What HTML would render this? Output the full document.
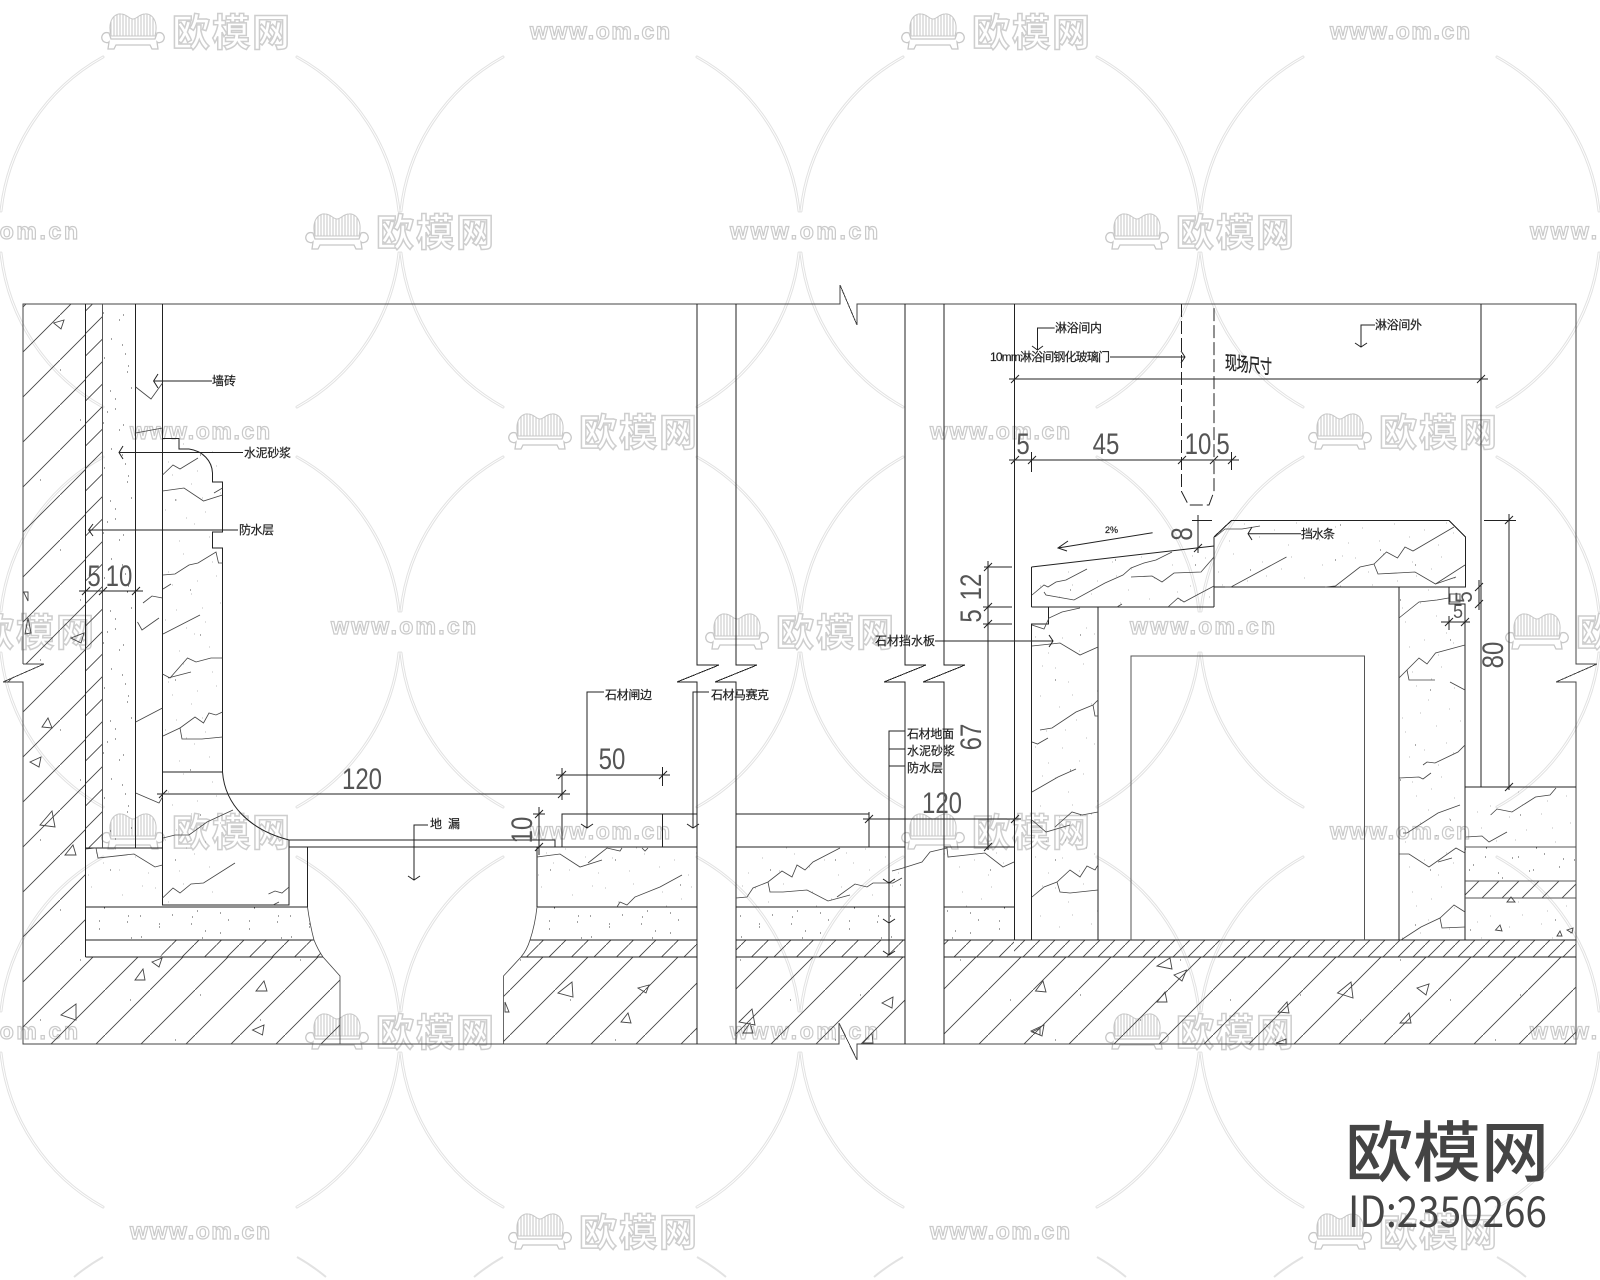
<!DOCTYPE html>
<html><head><meta charset="utf-8"><title>淋浴间节点详图</title>
<style>
html,body{margin:0;padding:0;background:#fff;width:1600px;height:1280px;overflow:hidden}
svg{display:block}
.wm{font-family:"Liberation Sans","Noto Sans CJK SC",sans-serif;font-size:38px;fill:#fff;stroke:#cecece;stroke-width:1.5;font-weight:700}
.ww{font-family:"Liberation Sans",sans-serif;font-size:23px;fill:#fff;stroke:#cacaca;stroke-width:1.2;font-weight:700}
.l{font-family:"Liberation Sans","Noto Sans CJK SC",sans-serif;font-size:12px;fill:#222;stroke:#222;stroke-width:.2}
.d{font-family:"Liberation Sans",sans-serif;font-size:30px;fill:#555;text-anchor:middle}
.m{fill:none;stroke:#222;stroke-width:1;shape-rendering:crispEdges}
.o{fill:none;stroke:#444;stroke-width:1;shape-rendering:crispEdges}
.t{fill:none;stroke:#555;stroke-width:1;shape-rendering:crispEdges}
.v{fill:none;stroke:#444;stroke-width:.8}
.a{fill:none;stroke:#222;stroke-width:1}
.tr{fill:none;stroke:#444;stroke-width:.9}
</style></head><body>
<svg xmlns="http://www.w3.org/2000/svg" width="1600" height="1280" viewBox="0 0 1600 1280">
<defs>
<pattern id="c" width="45" height="45" patternUnits="userSpaceOnUse" patternTransform="translate(15,0)"><path d="M-1 46L46-1" stroke="#444" stroke-width=".9" fill="none"/></pattern>
<pattern id="c2" width="45" height="45" patternUnits="userSpaceOnUse" patternTransform="translate(43,0)"><path d="M-1 46L46-1" stroke="#444" stroke-width=".9" fill="none"/></pattern>
<pattern id="h" width="22.500" height="22.500" patternUnits="userSpaceOnUse" patternTransform="translate(14,0)"><path d="M-1 23.500L23.500-1" stroke="#444" stroke-width=".9" fill="none"/></pattern>
<pattern id="h2" width="22.500" height="22.500" patternUnits="userSpaceOnUse" patternTransform="translate(21,0)"><path d="M-1 23.500L23.500-1" stroke="#444" stroke-width=".9" fill="none"/></pattern>
<pattern id="g" width="20" height="20" patternUnits="userSpaceOnUse"><path d="M-1 21L21-1" stroke="#444" stroke-width=".9" fill="none"/></pattern>
<pattern id="f" width="15" height="15" patternUnits="userSpaceOnUse"><path d="M-1 16L16-1" stroke="#444" stroke-width=".9" fill="none"/></pattern>
<pattern id="s" width="150" height="110" patternUnits="userSpaceOnUse"><path stroke="#444" stroke-width="1" fill="none" d="M5 8h1M18 22h1M33 4h1M47 31h1M62 12h1M78 40h1M91 7h1M104 28h1M122 15h1M140 36h1M9 47h1M26 60h1M41 44h1M55 72h1M70 53h1M86 66h1M99 49h1M115 79h1M131 58h1M146 71h1M12 88h1M29 101h1M44 84h1M59 97h1M74 90h1M88 105h1M103 93h1M119 100h1M135 87h1M148 103h1M22 35h1M36 78h1M66 26h1M96 83h1M110 61h1M127 42h1M142 6h1M52 58h1M81 19h1M15 70h1"/></pattern>
<pattern id="s3" width="150" height="110" patternUnits="userSpaceOnUse" patternTransform="translate(37,29)"><path stroke="#444" stroke-width="1" fill="none" d="M5 8h1M18 22h1M33 4h1M47 31h1M62 12h1M78 40h1M91 7h1M104 28h1M122 15h1M140 36h1M9 47h1M26 60h1M41 44h1M55 72h1M70 53h1M86 66h1M99 49h1M115 79h1M131 58h1M146 71h1M12 88h1M29 101h1M44 84h1M59 97h1M74 90h1M88 105h1M103 93h1M119 100h1M135 87h1M148 103h1"/></pattern>
<pattern id="s2" width="220" height="180" patternUnits="userSpaceOnUse"><path stroke="#555" stroke-width="1" fill="none" d="M15 20h1M80 60h1M150 30h1M200 95h1M40 120h1M110 150h1M175 140h1M60 10h1M130 100h1M20 165h1M95 25h1M190 50h1"/></pattern>
<pattern id="bars" width="3" height="10" patternUnits="userSpaceOnUse"><path d="M1 0V10" stroke="#c4c4c4" stroke-width="1"/></pattern>
<g id="ring" fill="none" stroke="#e2e2e2" stroke-width="3" stroke-linecap="round"><path d="M97-175A200 200 0 0 1 199-21M199 21A200 200 0 0 1 97 175M-97 175A200 200 0 0 1-199 21M-199-21A200 200 0 0 1-97-175"/><path d="M97-175A200 200 0 0 1 199-21M199 21A200 200 0 0 1 97 175M-97 175A200 200 0 0 1-199 21M-199-21A200 200 0 0 1-97-175" stroke="#fff" stroke-width="1"/></g>
<g id="sofa"><path d="M10 22C6 6 14-1 20 0C26 0 28 5 32 5C36 5 38 0 44 0C50-1 58 6 54 22Z" fill="url(#bars)" stroke="#c8c8c8"/><path d="M8 19C2 17-1 23 2 27C4 29 7 29 8 28L7 35L13 35L15 31H49L51 35L57 35L56 28C57 29 60 29 62 27C65 23 62 17 56 19L54 25H10Z" fill="#fff" stroke="#c8c8c8" stroke-width="1.300"/></g>
</defs>
<rect width="1600" height="1280" fill="#fff"/>

<!-- watermark rings -->
<use href="#ring" x="200" y="232"/><use href="#ring" x="600" y="232"/><use href="#ring" x="1000" y="232"/><use href="#ring" x="1400" y="232"/>
<use href="#ring" x="200" y="632"/><use href="#ring" x="600" y="632"/><use href="#ring" x="1000" y="632"/><use href="#ring" x="1400" y="632"/>
<use href="#ring" x="200" y="1032"/><use href="#ring" x="600" y="1032"/><use href="#ring" x="1000" y="1032"/><use href="#ring" x="1400" y="1032"/>
<path fill="none" stroke="#e2e2e2" stroke-width="2" d="M74 1277A200 200 0 0 1 103 1257M297 1257A200 200 0 0 1 326 1277M474 1277A200 200 0 0 1 503 1257M697 1257A200 200 0 0 1 726 1277M874 1277A200 200 0 0 1 903 1257M1097 1257A200 200 0 0 1 1126 1277M1274 1277A200 200 0 0 1 1303 1257M1497 1257A200 200 0 0 1 1526 1277"/>

<!-- watermark logos -->
<use href="#sofa" x="101" y="14"/><text class="wm" x="172" y="46" textLength="118">欧模网</text>
<use href="#sofa" x="901" y="14"/><text class="wm" x="972" y="46" textLength="118">欧模网</text>
<use href="#sofa" x="305" y="214"/><text class="wm" x="376" y="246" textLength="118">欧模网</text>
<use href="#sofa" x="1105" y="214"/><text class="wm" x="1176" y="246" textLength="118">欧模网</text>
<use href="#sofa" x="508" y="414"/><text class="wm" x="579" y="446" textLength="118">欧模网</text>
<use href="#sofa" x="1308" y="414"/><text class="wm" x="1379" y="446" textLength="118">欧模网</text>
<use href="#sofa" x="-95" y="614"/><text class="wm" x="-24" y="646" textLength="118">欧模网</text>
<use href="#sofa" x="705" y="614"/><text class="wm" x="776" y="646" textLength="118">欧模网</text>
<use href="#sofa" x="1505" y="614"/><text class="wm" x="1576" y="646" textLength="118">欧模网</text>
<use href="#sofa" x="101" y="814"/><text class="wm" x="172" y="846" textLength="118">欧模网</text>
<use href="#sofa" x="901" y="814"/><text class="wm" x="972" y="846" textLength="118">欧模网</text>
<use href="#sofa" x="305" y="1014"/><text class="wm" x="376" y="1046" textLength="118">欧模网</text>
<use href="#sofa" x="1105" y="1014"/><text class="wm" x="1176" y="1046" textLength="118">欧模网</text>
<use href="#sofa" x="508" y="1214"/><text class="wm" x="579" y="1246" textLength="118">欧模网</text>
<use href="#sofa" x="1308" y="1214"/><text class="wm" x="1379" y="1246" textLength="118">欧模网</text>
<text class="ww" x="530" y="39" textLength="140">www.om.cn</text><text class="ww" x="1330" y="39" textLength="140">www.om.cn</text>
<text class="ww" x="-70" y="239" textLength="148">www.om.cn</text><text class="ww" x="730" y="239" textLength="148">www.om.cn</text><text class="ww" x="1530" y="239" textLength="148">www.om.cn</text>
<text class="ww" x="130" y="439" textLength="140">www.om.cn</text><text class="ww" x="930" y="439" textLength="140">www.om.cn</text>
<text class="ww" x="331" y="634" textLength="145">www.om.cn</text><text class="ww" x="1130" y="634" textLength="145">www.om.cn</text>
<text class="ww" x="530" y="839" textLength="140">www.om.cn</text><text class="ww" x="1330" y="839" textLength="140">www.om.cn</text>
<text class="ww" x="-70" y="1039" textLength="148">www.om.cn</text><text class="ww" x="730" y="1039" textLength="148">www.om.cn</text><text class="ww" x="1530" y="1039" textLength="148">www.om.cn</text>
<text class="ww" x="130" y="1239" textLength="140">www.om.cn</text><text class="ww" x="930" y="1239" textLength="140">www.om.cn</text>

<!-- fills -->
<g>
<path d="M23 304H85.700V957H323L340 976V1044H23V682H3L44 664H23ZM503.500 1044V976L521 957H697V1044ZM736 957H905V1044H736Z" fill="url(#c)"/>
<path d="M944 957H1576V1044H944Z" fill="url(#c2)"/>
<path d="M23 304H85.700V957H323L340 976V1044H23V682H23V664H23Z" fill="url(#s2)"/>
<path d="M503.500 1044V976L521 957H697V1044ZM736 957H905V1044H736ZM944 957H1576V1044H944Z" fill="url(#s2)"/>
<rect x="85.700" y="304" width="17.300" height="544" fill="url(#h)"/>
<path d="M160 957L171 940H314L323 957Z" fill="url(#h)"/>
<path d="M530 940H697V957H521ZM736 940H905V957H736ZM944 940H1014V957H944Z" fill="url(#h2)"/>
<rect x="1014" y="940" width="562" height="17" fill="url(#f)"/>
<rect x="1465" y="881" width="111" height="17" fill="url(#g)"/>
<rect x="103" y="304" width="32.700" height="544" fill="url(#s)"/>
<rect x="103" y="304" width="32.700" height="544" fill="url(#s3)"/>
<path d="M85.700 907H307.500L314 940H85.700ZM537 907H697V940H530ZM736 907H905V940H736ZM944 907H1014V940H944ZM1465 847H1576V881H1465Z" fill="url(#s)"/>
<path d="M85.700 907H307.500L314 940H85.700ZM537 907H697V940H530ZM736 907H905V940H736ZM944 907H1014V940H944ZM1465 847H1576V881H1465Z" fill="url(#s3)"/>
<path d="M85.700 848H162.500V905H85.700ZM162.500 438H222.500V905H162.500ZM537 847H697V907H537ZM736 847H905V907H736ZM944 847H1014V907H944ZM1031 567L1214 546V607H1031ZM1214 537L1231 520H1449L1465 537V587H1214ZM1031 624H1098V940H1031ZM1399 587H1465V940H1399ZM1465 787H1576V847H1465ZM1465 898H1576V940H1465Z" fill="url(#s2)"/>
<path d="M85.700 848H162.500V905H85.700ZM162.500 438H222.500V905H162.500ZM537 847H697V907H537ZM736 847H905V907H736ZM944 847H1014V907H944ZM1031 567L1214 546V607H1031ZM1214 537L1231 520H1449L1465 537V587H1214ZM1031 624H1098V940H1031ZM1399 587H1465V940H1399ZM1465 787H1576V847H1465ZM1465 898H1576V940H1465Z" fill="url(#s)" opacity=".35"/>
</g>

<!-- main outlines -->
<path class="o" d="M23 664V304H840V285L857 325V304H1576V664H1597L1556 682H1576V1044H857V1060L839 1023V1044H23V682H3L44 664H23"/>
<g class="m">
<path d="M85.500 304V957M135.500 304V848M162.500 304V905H289V840M85.500 848H162.500"/>
<path d="M85.500 907H307.500V847M85.500 940H314M85.500 957H323"/>
<path d="M289 840H555V847H289M307.500 847H537M537 847V907M537 847H697M736 847H905M944 847H1014"/>
<path d="M537 907H697M736 907H905M944 907H1014M530 940H697M736 940H905M944 940H1576M521 957H697M736 957H905M944 957H1576"/>
<path d="M562 847V814H697M662.500 814V847M736 814H869V847"/>
<path d="M697 304V665H719L677 682H697V1044M736 304V665H757L715 682H736V1044M905 304V665H926L884 682H905V1044M944 304V665H965L923 682H944V1044"/>
<path d="M1014.500 304V940M1031.500 940V624H1048.500V607M1098 607V940M1399 587V940M1465 604V940M1481 304V787"/>
<path d="M1031.500 607V567M1214 607H1031.500M1214 537V607M1214 537L1231.500 520.500H1449L1465.500 537V587H1214M1449 587V604H1465.500"/>
<path d="M1465 787H1576"/>
<path d="M162.500 772H222.500"/>
<path d="M162.500 438.500H179V449H189M212.500 473V482H222.500V532H212.500V548H222.500V772"/>
</g>
<path class="a" d="M1031.500 567L1214 546M1214 537L1231.500 520.500M1449 520.500L1465.500 537"/>
<g class="t">
<path d="M102.500 304V848"/>
<path d="M1131 940V656H1364.500V940"/>
<path d="M1465 847H1576M1465 881H1576M1465 898H1576"/>
<path d="M1450 594H1460V602H1450Z"/>
</g>
<path class="a" d="M189 449C203 451 212 461 212.500 473"/>
<path class="a" d="M222.500 772C225 805 250 830 289 840"/>
<path class="v" d="M307.500 907Q310 925 314 940Q318 950 323 957L340 976V1044M537 907Q535 925 530 940Q527 950 521 957L503.500 976V1044"/>
<path class="a" stroke-dasharray="13 4" d="M1181.500 304V491.500L1188.500 505H1209L1214 491.500V304"/>

<!-- veins -->
<g class="v">
<polyline points="135.700,387 151,399 162.500,383"/><polyline points="135.700,433 162.500,428"/>
<polyline points="162.500,475 173,465 180,469 198,458"/><polyline points="162.500,491 184,488 203.500,501 222.500,495"/><polyline points="214,493 222.500,488"/>
<polyline points="163,575 175,574 189,565 198,563 216,552 218.500,563 222.500,563"/><polyline points="163,589 171,584"/>
<polyline points="143,603 152,596 162.500,598"/><polyline points="137.500,622 142,630 159,618"/><polyline points="163,634 200,615"/>
<polyline points="162.500,674 170,678 187.500,658 196,662 211,658 222.500,658"/><polyline points="168,678 191,672"/>
<polyline points="135.700,722 162.500,708"/><polyline points="163,736 180,728 182,739 202,739 222.500,737"/><polyline points="180,728 195,717 203.500,723 209,713 216,715 222.500,712"/>
<polyline points="135.700,793 159,803 162.500,797"/><polyline points="163,838 175,835 189,835 207,822 233,810"/>
<polyline points="85.700,849 96,848 98,858 134,854 155,867 162.500,865"/><polyline points="162.500,898 173,888 180,893 191,884 203.500,883 235,863"/>
<polyline points="268.500,894 275,891 282,893 289,887"/><polyline points="273,905 279,902"/>
<polyline points="537,857 560,854 580,867 602,860"/><polyline points="588,863 607,848 620,851 622,848"/><polyline points="642,848 645,851 648,848"/>
<polyline points="617,907 620,902 627,905 635,897 660,887 682,875"/>
<polyline points="736,898 747,897 753,888 768,882 782,871 792,877 797,865 805,870 813,862 840,848"/>
<polyline points="768,882 770,892 783,892 807,890 828,901 850,895"/><polyline points="837,897 855,884 867,887 873,883 893,883 902,878"/>
<polyline points="892,871 903,868 922,862 930,852 947,848 948,857 985,853 1003,867 1014,862"/>
<polyline points="1040,730 1052,728 1076,712 1093,705 1098,700"/><polyline points="1093,705 1095,716 1098,716"/><polyline points="1032,742 1037.500,744 1048,738"/>
<polyline points="1032,792 1058,777 1076,769"/><polyline points="1032,820 1046,832 1070,825"/><polyline points="1055,827 1072,812 1082,815 1098,812"/>
<polyline points="1032,897 1044,887 1057,882 1070,870 1080,877 1087,866 1095,870 1098,865"/><polyline points="1057,882 1060,892 1070,893 1098,890"/>
<polyline points="1423,765 1427,762 1435,763 1458,752 1465,745"/><polyline points="1399,778 1419,777 1423,779 1431,773"/><polyline points="1403,833 1407,833 1438,813 1460,805"/>
<polyline points="1399,854 1409,854 1429,867 1456,848 1465,853"/><polyline points="1438,862 1452,858"/>
<polyline points="1401,940 1421,927 1440,918 1454,905 1465,912"/><polyline points="1440,918 1442,928 1465,927"/>
<polyline points="1490.600,815 1497,809 1512,812 1535.500,797 1550,795 1556,788"/><polyline points="1466,837 1482,836 1489,842 1507,832"/>
<polyline points="1032,595 1044,585 1048,587 1056,582 1066,580 1087,569"/><polyline points="1044,592 1046,595 1074,600 1105,583 1123,575 1131,568 1144,563 1156,560 1172,552"/>
<polyline points="1131,577 1152,576 1162,582 1174,573 1201,572 1214,557"/><polyline points="1168,607 1178,598 1184,602 1197,595 1214,586"/><polyline points="1117,607 1122,604"/>
<polyline points="1215,537 1225,529 1242,529 1260,526"/><polyline points="1225,587 1231,587 1286.500,557"/>
<polyline points="1325,587 1335.500,586 1360,567 1374,564 1386.500,552 1397.500,558 1405,547 1413,551 1454,527"/>
<polyline points="1374,564 1378,574 1415,572 1435.500,584 1465,565"/><polyline points="1435.500,584 1456,577"/>
<polyline points="1032,625 1044,629 1049,618 1062,612 1080,608"/><polyline points="1032,646 1060,643 1080,655 1098,647"/>
<polyline points="1399,618 1419,602 1437,600 1448.600,598"/><polyline points="1399,678 1419,658 1427,664 1435.500,653 1465,645"/><polyline points="1407,670 1409,680 1435,680"/><polyline points="1450,682 1465,690"/>
</g>

<!-- aggregate triangles -->
<g class="tr">
<path d="M53.600 323L64 320L61 329ZM23.600 592L28 592L28 601ZM28 618L31 633L25 634ZM71 638L84 633L81 643ZM42 727L48 718L52 728ZM30 762L41 757L39 767ZM40 825L52 811L55 827ZM65 855L73 845L76 855ZM152 962L162 958L159 967ZM135 980L143 969L145 980ZM256 991L264 981L267 991ZM61 1015L76 1004L76 1020ZM252.500 1030L264 1025L262.500 1035ZM505 1002L509 1012L505 1012Z"/>
<path d="M558 993L572 982L573 997ZM638 988L649 985L646 993ZM621 1022L628 1013L631 1023ZM739 1022L752 1009L755 1025ZM743 1033L750 1023L753 1033ZM882 1003L893 997L892 1008ZM863 1043L872 1033L873 1043ZM1032 1032L1040 1028L1040 1035Z"/>
<path d="M1035.500 991L1043 981L1046 992ZM1031 1031L1044 1025L1042 1036ZM1157 966L1170 958L1172 969ZM1174 975L1186.500 970L1182 981ZM1157 1002L1165 992L1167 1002ZM1278 1012L1287 1002L1289 1013ZM1337.500 993L1351 982L1353 998ZM1417 988L1429 984L1426 995ZM1400 1023L1409 1013L1411 1023ZM1276 1043L1286 1039L1286 1044ZM1507 902L1511 897L1515 902ZM1495.500 930L1500 925L1502 931ZM1557 936L1560 931L1562 936ZM1567 930L1573 928L1572 933Z"/>
</g>

<!-- dimensions -->
<g class="a">
<path d="M79 591H143M82 595L90 587M99 595L107 587M132 595L140 587"/>
<path d="M157 794H570M159 798L167 790M558 798L566 790"/>
<path d="M556 775H670M562 768V800M662.500 767V786M558 779L566 771M659 779L667 771"/>
<path d="M539 807V855M533 814H545M535 818L543 810M535 851L543 843"/>
<path d="M863 819H1021M869 812V830M865 823L873 815M1011 823L1019 815"/>
<path d="M1009 379H1488M1011 383L1019 375M1477 383L1485 375"/>
<path d="M1009 460H1239M1031.500 452V472M1011 464L1019 456M1028 464L1036 456M1178 464L1186 456M1210 464L1218 456M1231.500 452V470M1228 464L1236 456"/>
<path d="M988 561V850M984 567H1012M983 607H1012M983 624H1012M984 571L992 563M984 611L992 603M984 628L992 620M984 851L992 843"/>
<path d="M1509 514V790M1484 520.500H1516M1505 524L1513 516M1505 791L1513 783"/>
<path d="M1198 515V553M1192 520.500H1212M1194 552L1202 544"/>
<path d="M1479 580V610M1475 591L1483 583M1475 608L1483 600"/>
<path d="M1441 622H1470M1449 616V630M1445 626L1453 618M1461 626L1469 618"/>
</g>

<!-- leaders -->
<g class="a">
<path d="M153.600 381H212M158 374L153.600 381L158 388"/>
<path d="M119 452.500H243M123 446L119 452.500L123 459"/>
<path d="M88.600 530H238M93 524L88.600 530L93 536"/>
<path d="M428 825H414V880M408 876L414 880L420 876"/>
<path d="M604 692H587V828M581 824L587 828L593 824"/>
<path d="M709 692H693V828M687 824L693 828L699 824"/>
<path d="M905 731H889V955M883 951L889 955L895 951M883 879L889 883L895 879M883 919L889 923L895 919M889 749H905M889 766H905"/>
<path d="M1054.700 328H1037.500V350M1032 346L1037.500 350L1043 346"/>
<path d="M1110 357H1185M1181 351L1185 357L1181 363"/>
<path d="M1375 325H1361V347M1355 343L1361 347L1367 343"/>
<path d="M1152.600 532.700L1058 548M1068 541L1058 548L1067 551"/>
<path d="M1301 533.700H1248M1252 527L1248 533.700L1252 540"/>
<path d="M935 641H1053M1049 635L1053 641L1049 647"/>
</g>

<!-- labels -->
<text class="l" x="212" y="385" textLength="24">墙砖</text>
<text class="l" x="244" y="457" textLength="47">水泥砂浆</text>
<text class="l" x="239" y="534" textLength="35">防水层</text>
<text class="l" x="430" y="828" textLength="30">地 漏</text>
<text class="l" x="605" y="699" textLength="47">石材闸边</text>
<text class="l" x="711" y="699" textLength="58">石材马赛克</text>
<text class="l" x="907" y="738" textLength="47">石材地面</text>
<text class="l" x="907" y="755" textLength="48">水泥砂浆</text>
<text class="l" x="907" y="772" textLength="36">防水层</text>
<text class="l" x="875" y="645" textLength="60">石材挡水板</text>
<text class="l" x="1055" y="332" textLength="47">淋浴间内</text>
<text class="l" x="990" y="361" textLength="120">10mm淋浴间钢化玻璃门</text>
<text class="l" x="1375" y="329" textLength="47">淋浴间外</text>
<text class="l" transform="translate(1225,369) skewY(6) scale(1,1.600)" textLength="47">现场尺寸</text>
<text class="l" x="1105" y="533" style="font-size:9px">2%</text>
<text class="l" x="1301" y="538" textLength="34">挡水条</text>

<!-- dimension numbers -->
<text class="d" transform="translate(94,586) scale(.8,1)">5</text>
<text class="d" transform="translate(119,586) scale(.8,1)">10</text>
<text class="d" transform="translate(362,789) scale(.8,1)">120</text>
<text class="d" transform="translate(612,769) scale(.8,1)">50</text>
<text class="d" transform="translate(942,813) scale(.8,1)">120</text>
<text class="d" transform="translate(1023,454) scale(.8,1)">5</text>
<text class="d" transform="translate(1106,454) scale(.8,1)">45</text>
<text class="d" transform="translate(1198,454) scale(.8,1)">10</text>
<text class="d" transform="translate(1223,454) scale(.8,1)">5</text>
<text class="d" transform="translate(981,587) rotate(-90) scale(.8,1)">12</text>
<text class="d" transform="translate(981,616) rotate(-90) scale(.8,1)">5</text>
<text class="d" transform="translate(981,737) rotate(-90) scale(.8,1)">67</text>
<text class="d" transform="translate(1192,534) rotate(-90) scale(.8,1)">8</text>
<text class="d" transform="translate(532,830) rotate(-90) scale(.8,1)">10</text>
<text class="d" transform="translate(1503,655) rotate(-90) scale(.8,1)">80</text>
<text class="d" transform="translate(1472,597) rotate(-90) scale(.7,.8)">5</text>
<text class="d" transform="translate(1458,618) scale(.6,.65)">5</text>

<!-- brand block -->
<text x="1345" y="1176" textLength="204" lengthAdjust="spacingAndGlyphs" style="font-family:'Liberation Sans','Noto Sans CJK SC',sans-serif;font-size:66px;font-weight:500;fill:#444">欧模网</text>
<text x="1348" y="1227" textLength="199" lengthAdjust="spacingAndGlyphs" style="font-family:'Noto Sans CJK SC','Liberation Sans',sans-serif;font-size:43px;fill:#444">ID:2350266</text>
</svg>
</body></html>
